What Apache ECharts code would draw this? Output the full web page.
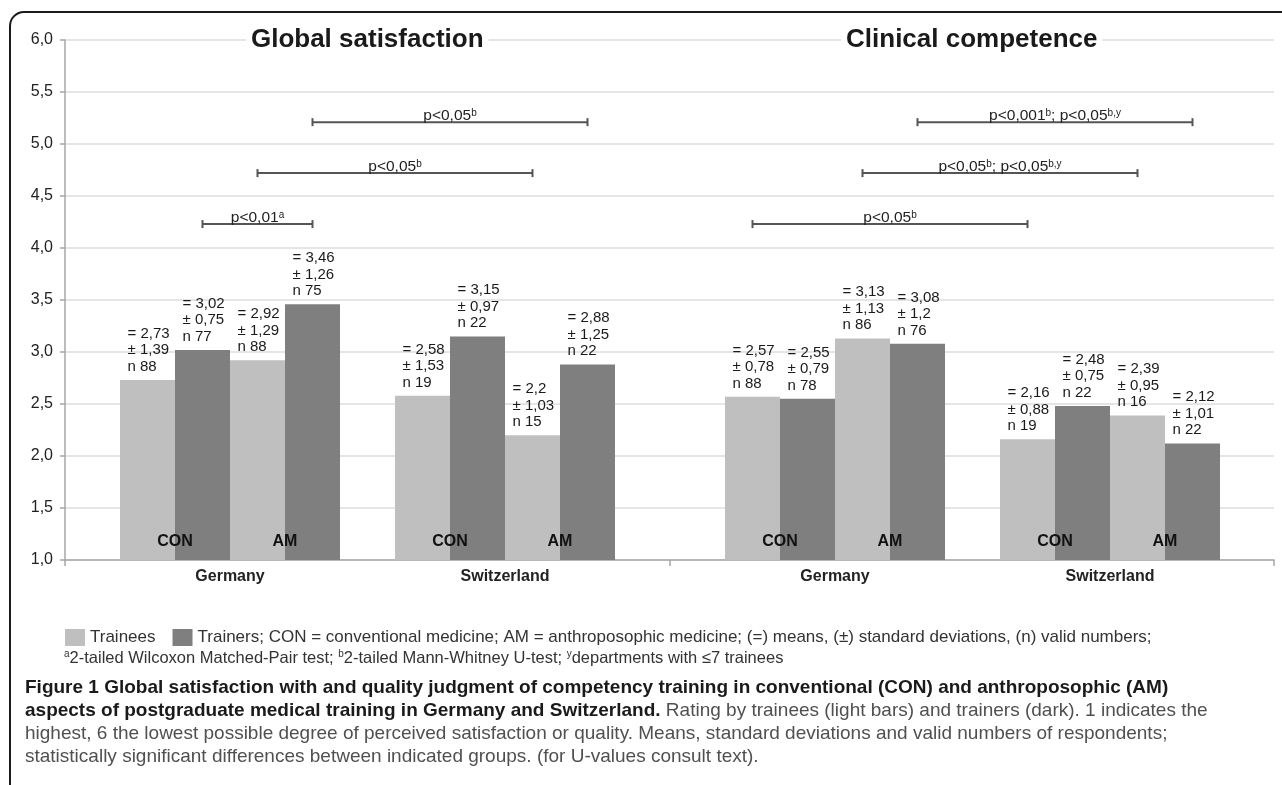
<!DOCTYPE html>
<html>
<head>
<meta charset="utf-8">
<title>Global satisfaction and clinical competence</title>
<script src="https://cdn.jsdelivr.net/npm/echarts@6/dist/echarts.min.js"></script>
<style>
  html, body { margin: 0; padding: 0; background: #ffffff; }
  #chart { width: 1282px; height: 785px; }
</style>
</head>
<body>
<div id="chart"></div>
<script>
// ---- Data -------------------------------------------------------------
const panels = ['Global satisfaction', 'Clinical competence'];
const countries = ['Germany', 'Switzerland'];
const aspectTags = ['CON', 'AM'];
// bar order inside each country group
const barRoles = ['Trainees', 'Trainers', 'Trainees', 'Trainers'];

// rows: CON trainees, CON trainers, AM trainees, AM trainers; columns: Germany, Switzerland
const globalMean = [[2.73, 2.58], [3.02, 3.15], [2.92, 2.2], [3.46, 2.88]];
const globalSd   = [[1.39, 1.53], [0.75, 0.97], [1.29, 1.03], [1.26, 1.25]];
const globalN    = [[88, 19], [77, 22], [88, 15], [75, 22]];

const clinicalMean = [[2.57, 2.16], [2.55, 2.48], [3.13, 2.39], [3.08, 2.12]];
const clinicalSd   = [[0.78, 0.88], [0.79, 0.75], [1.13, 0.95], [1.2, 1.01]];
const clinicalN    = [[88, 19], [78, 22], [86, 16], [76, 22]];

// y scale (1 = best, 6 = worst)
const yMin = 1, yMax = 6, yStep = 0.5;

// significance brackets: from/to = [country index, bar index]
const globalBrackets = [
  { from: [0, 1], to: [0, 3], level: 4.23, text: 'p<0,01{s|a}' },
  { from: [0, 2], to: [1, 2], level: 4.72, text: 'p<0,05{s|b}' },
  { from: [0, 3], to: [1, 3], level: 5.21, text: 'p<0,05{s|b}' }
];
const clinicalBrackets = [
  { from: [0, 0], to: [1, 0], level: 4.23, text: 'p<0,05{s|b}' },
  { from: [0, 2], to: [1, 2], level: 4.72, text: 'p<0,05{s|b}; p<0,05{s|b,y}' },
  { from: [0, 3], to: [1, 3], level: 5.21, text: 'p<0,001{s|b}; p<0,05{s|b,y}' }
];

const legendNote = 'Trainers; CON = conventional medicine; AM = anthroposophic medicine; (=) means, (\u00b1) standard deviations, (n) valid numbers;';
const footnote = '{s|a}2-tailed Wilcoxon Matched-Pair test; {s|b}2-tailed Mann-Whitney U-test; {s|y}departments with \u22647 trainees';
const captionLines = [
  '{b|Figure 1 Global satisfaction with and quality judgment of competency training in conventional (CON) and anthroposophic (AM)}',
  '{b|aspects of postgraduate medical training in Germany and Switzerland.}{r| Rating by trainees (light bars) and trainers (dark). 1 indicates the}',
  '{r|highest, 6 the lowest possible degree of perceived satisfaction or quality. Means, standard deviations and valid numbers of respondents;}',
  '{r|statistically significant differences between indicated groups. (for U-values consult text).}'
];

// ---- Styling ----------------------------------------------------------
const SANS = "'Liberation Sans', Arial, sans-serif";
const LIGHT = '#bfbfbf';
const DARK = '#7f7f7f';
const AXIS = '#a6a6a6';
const BAR_FRACTION = 0.2;   // each bar takes 20% of a country band

const comma = v => String(v).replace('.', ',');

const chart = echarts.init(document.getElementById('chart'), null, { renderer: 'canvas' });

function barSeries(panelIdx, row, means, sds, ns) {
  return {
    type: 'bar',
    name: barRoles[row],
    xAxisIndex: panelIdx + 1,
    yAxisIndex: panelIdx + 1,
    data: means[row],
    barWidth: (BAR_FRACTION * 100) + '%',
    barGap: '0%',
    z: 2,
    itemStyle: { color: barRoles[row] === 'Trainees' ? LIGHT : DARK },
    emphasis: { disabled: true },
    label: {
      show: true,
      position: 'top',
      distance: 5,
      align: 'left',
      offset: [-20, 0],
      fontFamily: SANS,
      fontSize: 15,
      lineHeight: 16.5,
      color: '#1a1a1a',
      formatter: p => '= ' + comma(p.value) + '\n\u00b1 ' + comma(sds[row][p.dataIndex]) + '\nn ' + ns[row][p.dataIndex]
    }
  };
}

// CON / AM tags sitting at the joint of the trainee and trainer bars
function tagSeries(panelIdx) {
  return {
    type: 'custom',
    xAxisIndex: panelIdx + 1,
    yAxisIndex: panelIdx + 1,
    silent: true,
    z: 6,
    data: countries.map((c, i) => [i, yMin]),
    renderItem: (params, api) => {
      const base = api.coord([api.value(0), api.value(1)]);
      const bw = api.size([1, 0])[0] * BAR_FRACTION;
      return {
        type: 'group',
        children: aspectTags.map((t, k) => ({
          type: 'text',
          x: base[0] + (2 * k - 1) * bw,
          y: base[1] - 18,
          style: {
            text: t, fill: '#111', fontFamily: SANS, fontWeight: 'bold', fontSize: 16,
            align: 'center', verticalAlign: 'middle'
          }
        }))
      };
    }
  };
}

// horizontal significance brackets between bar centres
function bracketSeries(panelIdx, brackets) {
  return {
    type: 'custom',
    xAxisIndex: panelIdx + 1,
    yAxisIndex: panelIdx + 1,
    silent: true,
    z: 6,
    data: brackets.map(b => [b.from[0], b.level]),
    renderItem: (params, api) => {
      const b = brackets[params.dataIndex];
      const bw = api.size([1, 0])[0] * BAR_FRACTION;
      const p1 = api.coord([b.from[0], b.level]);
      const p2 = api.coord([b.to[0], b.level]);
      const x1 = p1[0] + (b.from[1] - 1.5) * bw;
      const x2 = p2[0] + (b.to[1] - 1.5) * bw;
      const y = p1[1];
      const stroke = { stroke: '#555', lineWidth: 2 };
      return {
        type: 'group',
        children: [
          { type: 'line', shape: { x1: x1, y1: y, x2: x2, y2: y }, style: stroke },
          { type: 'line', shape: { x1: x1, y1: y - 4, x2: x1, y2: y + 4 }, style: stroke },
          { type: 'line', shape: { x1: x2, y1: y - 4, x2: x2, y2: y + 4 }, style: stroke },
          {
            type: 'text', x: (x1 + x2) / 2, y: y + 2,
            style: {
              text: b.text, fill: '#222', fontFamily: SANS, fontSize: 15.5,
              align: 'center', verticalAlign: 'bottom',
              rich: { s: { fontFamily: SANS, fontSize: 10, fill: '#222', verticalAlign: 'top' } }
            }
          }
        ]
      };
    }
  };
}

const series = [];
[[globalMean, globalSd, globalN], [clinicalMean, clinicalSd, clinicalN]].forEach((set, p) => {
  for (let r = 0; r < barRoles.length; r++) series.push(barSeries(p, r, set[0], set[1], set[2]));
  series.push(tagSeries(p));
});
series.push(bracketSeries(0, globalBrackets));
series.push(bracketSeries(1, clinicalBrackets));

const hiddenY = idx => ({
  type: 'value', gridIndex: idx, min: yMin, max: yMax, interval: yStep, show: false
});
const countryX = idx => ({
  type: 'category', gridIndex: idx, data: countries,
  axisLine: { show: false }, axisTick: { show: false }, splitLine: { show: false },
  axisLabel: { margin: 9, fontFamily: SANS, fontWeight: 'bold', fontSize: 16, color: '#222' }
});

const option = {
  backgroundColor: '#ffffff',
  animation: false,
  grid: [
    { left: 65, top: 40, width: 1209, height: 520, outerBoundsMode: 'none' },
    { left: 92.5, top: 40, width: 550, height: 520, outerBoundsMode: 'none' },
    { left: 697.5, top: 40, width: 550, height: 520, outerBoundsMode: 'none' }
  ],
  xAxis: [
    {
      type: 'category', gridIndex: 0, data: panels,
      axisLine: { lineStyle: { color: AXIS, width: 1.5 } },
      axisTick: { show: true, length: 6, lineStyle: { color: AXIS, width: 1.5 } },
      axisLabel: { show: false }, splitLine: { show: false }
    },
    countryX(1),
    countryX(2)
  ],
  yAxis: [
    {
      type: 'value', gridIndex: 0, min: yMin, max: yMax, interval: yStep,
      axisLine: { show: true, lineStyle: { color: AXIS, width: 1.5 } },
      axisTick: { show: true, length: 5, lineStyle: { color: AXIS, width: 1.5 } },
      splitLine: { show: true, lineStyle: { color: '#dcdcdc', width: 1.5 } },
      axisLabel: {
        margin: 12, fontFamily: SANS, fontSize: 16, color: '#222',
        formatter: v => v.toFixed(1).replace('.', ',')
      }
    },
    hiddenY(1),
    hiddenY(2)
  ],
  legend: {
    data: ['Trainees', 'Trainers'],
    left: 60, top: 624,
    icon: 'rect', itemWidth: 20, itemHeight: 17, itemGap: 17,
    selectedMode: false,
    formatter: name => (name === 'Trainers' ? legendNote : name),
    textStyle: { fontFamily: SANS, fontSize: 17, color: '#333' }
  },
  graphic: [
    {
      type: 'rect', z: 0, silent: true,
      shape: { x: 10, y: 12, width: 1300, height: 800, r: 14 },
      style: { fill: 'none', stroke: '#1a1a1a', lineWidth: 2 }
    },
    ...panels.map((t, i) => ({
      type: 'text', z: 50, silent: true,
      x: 65 + 1209 * (i + 0.5) / panels.length, y: 40,
      style: {
        text: t, fill: '#1a1a1a', fontFamily: SANS, fontWeight: 'bold', fontSize: 26,
        align: 'center', verticalAlign: 'middle',
        backgroundColor: '#ffffff', padding: [2, 5]
      }
    })),
    {
      type: 'text', z: 50, silent: true, x: 64, y: 658,
      style: {
        text: footnote, fill: '#333', fontFamily: SANS, fontSize: 16.5,
        verticalAlign: 'middle',
        rich: { s: { fontFamily: SANS, fontSize: 10, fill: '#333', verticalAlign: 'top' } }
      }
    },
    {
      type: 'text', z: 50, silent: true, x: 25, y: 676,
      style: {
        text: captionLines.join('\n'),
        fill: '#222', fontFamily: SANS, fontSize: 19, lineHeight: 23,
        rich: {
          b: { fontFamily: SANS, fontWeight: 'bold', fontSize: 19, lineHeight: 23, fill: '#1a1a1a' },
          r: { fontFamily: SANS, fontSize: 19, lineHeight: 23, fill: '#505050' }
        }
      }
    }
  ],
  series: series
};

chart.setOption(option);
</script>
</body>
</html>
